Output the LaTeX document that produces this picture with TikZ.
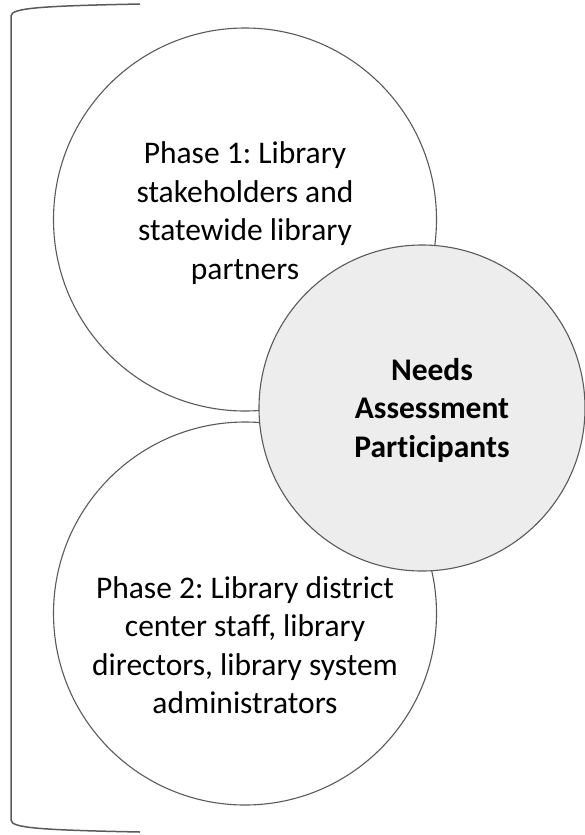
\documentclass[tikz,border=0pt]{standalone}
\usepackage{fontspec}
\setmainfont{Carlito}[Ligatures={NoCommon}]
\frenchspacing
\definecolor{edge}{HTML}{5A5A5A}
\definecolor{hub}{HTML}{EDEDED}
\begin{document}
\begin{tikzpicture}[x=1pt,y=-1pt,
  phase/.style={circle,draw=edge,line width=1.1pt,fill=white,minimum size=383pt,inner sep=0pt},
  hubc/.style={circle,draw=edge,line width=1.1pt,fill=hub,minimum size=326pt,inner sep=0pt},
  lbl/.style={align=center,font=\fontsize{31.5}{38.5}\selectfont}]
\useasboundingbox (0,0) rectangle (584,835);
\node[phase] (p1) at (245,219.5) {};
\node[phase] (p2) at (245,613.5) {};
\node[hubc] (hub) at (422,408) {};
\node[lbl] (t1) at (245,213) {Phase 1: Library\\stakeholders and\\statewide library\\partners};
\node[lbl] (t2) at (245,645) {Phase 2: Library district\\center staff, library\\directors, library system\\administrators};
\node[lbl,font=\fontsize{31.5}{38.5}\selectfont\bfseries] (t3) at (432,410) {Needs\\Assessment\\Participants};
\draw[edge,line width=1.5pt] (140,4) .. controls (40,6) and (11,8) .. (11,16) -- (11,820) .. controls (11,828) and (40,830) .. (140,832);
\end{tikzpicture}
\end{document}
